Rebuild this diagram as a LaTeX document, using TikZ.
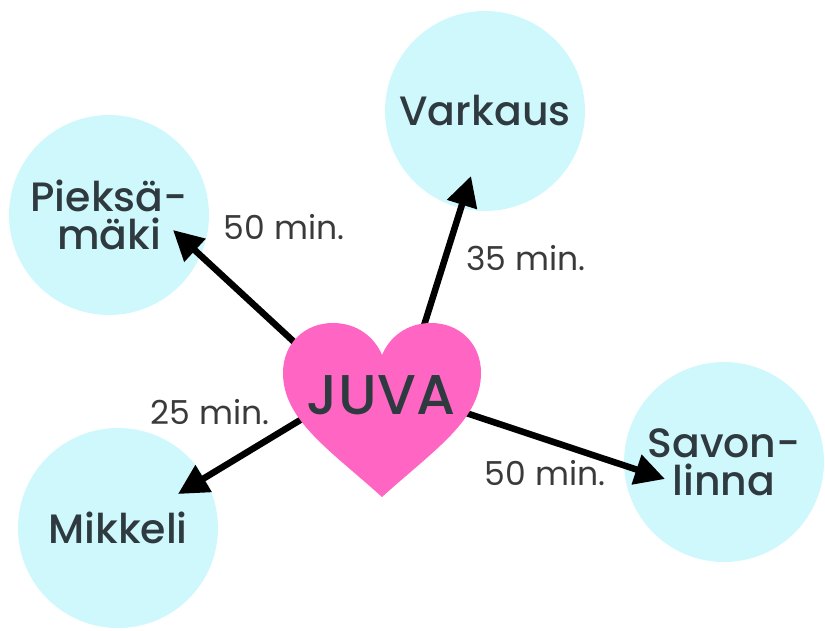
\documentclass[tikz,border=0pt]{standalone}
\usepackage{fontspec}
\setmainfont{Poppins}
\IfFontExistsTF{Poppins Medium}
    {\newfontfamily\townfont{Poppins Medium}}
    {\newfontfamily\townfont{Poppins}}
\usepackage{tikz}
\usetikzlibrary{arrows.meta, positioning}
\definecolor{town}{HTML}{CFF8FC}
\definecolor{heartpink}{HTML}{FF66C4}
\definecolor{ink}{HTML}{2E3A3F}
\definecolor{lblink}{HTML}{3A3A3A}
\tikzset{
    town/.style={circle, fill=town, minimum size=200pt, inner sep=0pt,
        align=center, text=ink, font=\townfont\fontsize{41}{38}\selectfont},
    drive/.style={line width=6.5pt, -{Triangle[length=30pt,width=30pt]}},
    minutes/.style={text=lblink, font=\fontsize{33}{36}\selectfont}
}
\begin{document}
\begin{tikzpicture}[x=1pt,y=-1pt]
\useasboundingbox (0,0) rectangle (825,630);
% towns
\node[town] (varkaus) at (485,111) {Varkaus};
\node[town] (pieksamaki) at (109,215) {Pieksä-\\mäki};
\node[town] (mikkeli) at (118,528) {Mikkeli};
\node[town] (savonlinna) at (724,462) {Savon-\\linna};
% arrow ends
\coordinate (juva-n) at (410,370);
\coordinate (juva-nw) at (332,377);
\coordinate (juva-sw) at (340,396);
\coordinate (juva-e) at (430,401);
\coordinate (varkaus-in) at (471,176);
\coordinate (pieksamaki-in) at (173,230);
\coordinate (mikkeli-in) at (178,494);
\coordinate (savonlinna-in) at (665,479);
\path[drive]
(juva-n) edge (varkaus-in)
(juva-nw) edge (pieksamaki-in)
(juva-sw) edge (mikkeli-in)
(juva-e) edge (savonlinna-in);
% heart
\fill[heartpink] (382,497)
    .. controls (330,450) and (283,420) .. (283,373)
    .. controls (283,343) and (305,323) .. (333,323)
    .. controls (358,323) and (375,338) .. (382,355)
    .. controls (389,338) and (406,323) .. (431,323)
    .. controls (459,323) and (481,343) .. (481,373)
    .. controls (481,420) and (434,450) .. (382,497) -- cycle;
\node[text=ink, font=\townfont\fontsize{56}{56}\selectfont] (juva) at (381,395) {JUVA};
% travel times
\node[minutes] (t-varkaus) at (526,258) {35 min.};
\node[minutes] (t-pieksamaki) at (284,227) {50 min.};
\node[minutes] (t-mikkeli) at (210,412) {25 min.};
\node[minutes] (t-savonlinna) at (545,473) {50 min.};
\end{tikzpicture}
\end{document}
